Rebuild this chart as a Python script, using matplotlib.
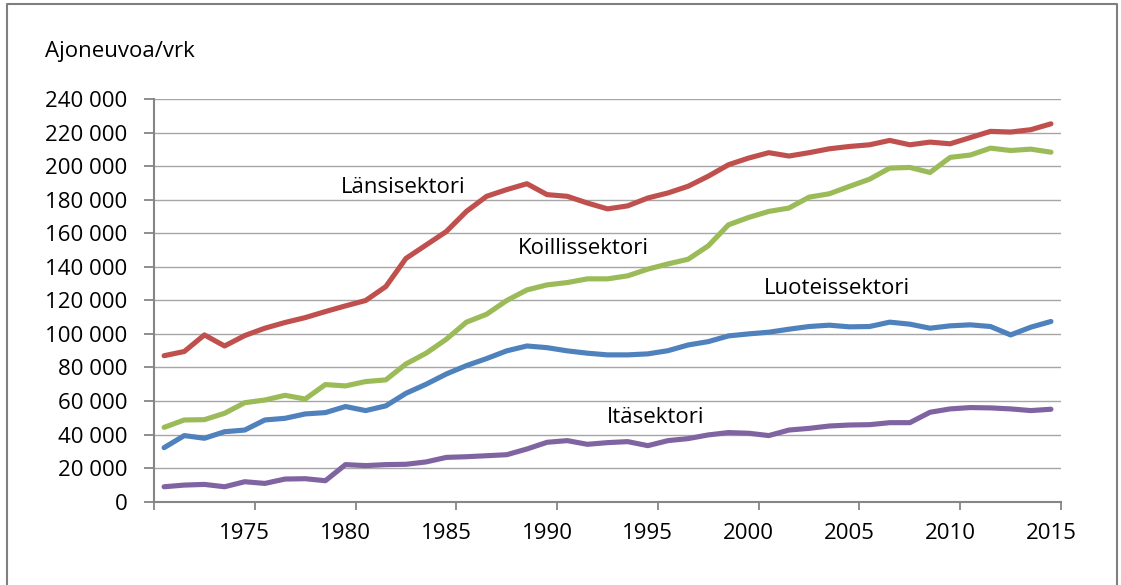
import numpy as np
import matplotlib.pyplot as plt
from matplotlib.ticker import FuncFormatter

# Traffic volumes by sector, vehicles per day, 1971-2015
years = list(range(1971, 2016))

lansi = [87000, 89500, 99400, 92800, 99000, 103400, 106800, 109700, 113300, 116700,
         119900, 128200, 145000, 153000, 161000, 173000, 182000, 186000, 189500, 183000,
         182000, 178000, 174500, 176300, 181000, 184000, 188000, 194000, 200800, 204800,
         208000, 206000, 208000, 210300, 211700, 212700, 215300, 212700, 214300, 213300,
         217000, 220700, 220300, 221700, 225200]

koillis = [44300, 48700, 48900, 52700, 59000, 60600, 63400, 61200, 69800, 69000,
           71600, 72600, 82100, 88500, 96800, 107000, 111700, 119900, 126200, 129200,
           130600, 132800, 132800, 134600, 138600, 141700, 144500, 152500, 165000, 169400,
           173000, 175000, 181500, 183500, 187900, 192200, 198800, 199200, 196200, 205200,
           206600, 210700, 209300, 210100, 208300]

luoteis = [32200, 39400, 37800, 41700, 42700, 48700, 49700, 52300, 53100, 56700,
           54300, 57100, 64600, 70000, 76100, 81100, 85300, 89900, 92800, 91800,
           89900, 88500, 87500, 87500, 88100, 90000, 93400, 95400, 98800, 100000,
           101000, 102800, 104400, 105200, 104200, 104400, 107000, 105800, 103400, 104800,
           105400, 104400, 99400, 104000, 107400]

ita = [8900, 9900, 10300, 8900, 11900, 10900, 13500, 13700, 12500, 22100,
       21500, 22100, 22300, 23700, 26400, 26800, 27400, 28000, 31400, 35400,
       36400, 34200, 35200, 35800, 33400, 36400, 37600, 39800, 41200, 40800,
       39400, 42700, 43700, 45100, 45700, 45900, 47100, 47100, 53300, 55300,
       56100, 55900, 55300, 54300, 55100]

label_years = [1975, 1980, 1985, 1990, 1995, 2000, 2005, 2010, 2015]

plt.rcParams['font.family'] = ['Open Sans', 'DejaVu Sans']
FS = 16

fig = plt.figure(figsize=(11.21, 5.85), dpi=100)
ax = fig.add_axes([0.1374, 0.1424, 0.8091, 0.6884])

ax.plot(years, lansi, color='#C0504D', lw=3.7, solid_capstyle='round')
ax.plot(years, koillis, color='#9BBB59', lw=3.7, solid_capstyle='round')
ax.plot(years, luoteis, color='#4F81BD', lw=3.7, solid_capstyle='round')
ax.plot(years, ita, color='#8064A2', lw=3.7, solid_capstyle='round')

ax.set_xlim(1970.5, 2015.5)
ax.set_ylim(0, 240000)
ax.set_yticks(np.arange(0, 240001, 20000))
ax.yaxis.set_major_formatter(FuncFormatter(lambda v, p: f'{int(v):,}'.replace(',', ' ')))
ax.grid(axis='y', color='#A6A6A6', lw=1.0)
ax.set_axisbelow(True)

# tick marks between categories, labels on categories
ax.set_xticks(np.arange(1970.5, 2016, 5))
ax.set_xticklabels([])
ax.set_xticks(label_years, minor=True)
ax.set_xticklabels([str(y) for y in label_years], minor=True)
ax.tick_params(axis='x', which='major', length=6, width=1.3, color='#868686')
ax.tick_params(axis='x', which='minor', length=0, pad=15, labelsize=FS)
ax.tick_params(axis='y', length=7, width=1.3, color='#868686', pad=12, labelsize=FS)

for s in ['top', 'right']:
    ax.spines[s].set_visible(False)
for s in ['left', 'bottom']:
    ax.spines[s].set_color('#868686')
    ax.spines[s].set_linewidth(1.5)

ax.text(1982.85, 187000, 'Länsisektori', fontsize=FS, ha='center', va='center')
ax.text(1991.8, 151000, 'Koillissektori', fontsize=FS, ha='center', va='center')
ax.text(2004.4, 127000, 'Luoteissektori', fontsize=FS, ha='center', va='center')
ax.text(1995.4, 50000, 'Itäsektori', fontsize=FS, ha='center', va='center')

fig.text(45 / 1121, 1 - 52 / 585, 'Ajoneuvoa/vrk', fontsize=FS, ha='left', va='center')

# outer chart frame
fig.add_artist(plt.Line2D([7 / 1121, 7 / 1121, 1117 / 1121, 1117 / 1121],
                          [0, 1 - 4 / 585, 1 - 4 / 585, 0],
                          transform=fig.transFigure, color='#7F7F7F', lw=1.5))

fig.savefig('out.png', dpi=100)
